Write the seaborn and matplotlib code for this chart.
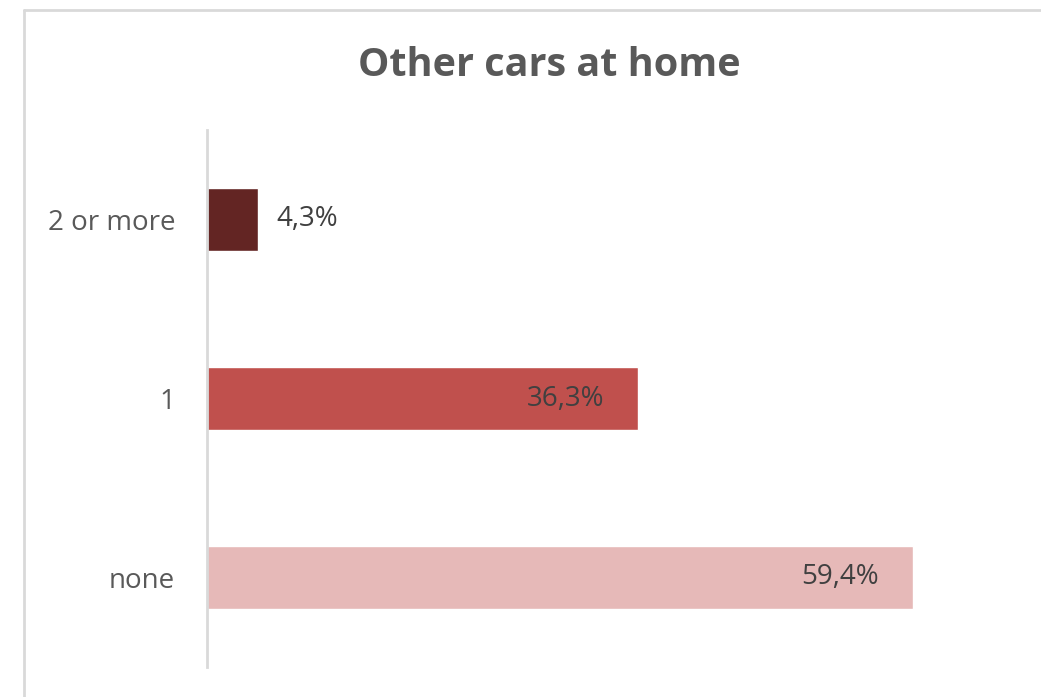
import matplotlib
matplotlib.use('Agg')
import matplotlib.pyplot as plt
import seaborn as sns
import pandas as pd
from matplotlib.lines import Line2D

categories = ['2 or more', '1', 'none']
shares = [4.3, 36.3, 59.4]
labels = ['4,3%', '36,3%', '59,4%']
colors = ['#632523', '#C0504D', '#E6B9B8']

sns.set_theme(style='white')
plt.rcParams['font.family'] = ['Open Sans', 'DejaVu Sans']

df = pd.DataFrame({'category': categories, 'share': shares})

fig = plt.figure(figsize=(10.41, 6.97), dpi=100)
ax = fig.add_axes([207 / 1041, 1 - 667 / 697, 832 / 1041, 537 / 697])
sns.barplot(data=df, y='category', x='share', hue='category', palette=colors,
            order=categories, width=0.35, legend=False, ax=ax, saturation=1)

ax.set_xlim(0, 70)
ax.set_ylim(2.5, -0.5)
ax.set_xlabel('')
ax.set_ylabel('')
ax.set_xticks([])
for s in ['top', 'right', 'bottom']:
    ax.spines[s].set_visible(False)
ax.spines['left'].set_color('#D9D9D9')
ax.spines['left'].set_linewidth(2)
ax.tick_params(axis='y', length=0, pad=23, labelsize=20, labelcolor='#595959')

for i, (v, lab) in enumerate(zip(shares, labels)):
    if v < 10:
        ax.text(v + 1.5, i, lab, va='center', ha='left', fontsize=20, color='#404040')
    else:
        ax.text(v - 2.9, i, lab, va='center', ha='right', fontsize=20, color='#404040')

fig.text(549 / 1041, 1 - 65 / 697, 'Other cars at home', ha='center', va='center',
         fontsize=28.5, fontweight='bold', color='#595959')

# chart frame
fig.add_artist(Line2D([24 / 1041, 24 / 1041], [0, 1 - 10 / 697], color='#D9D9D9', lw=2))
fig.add_artist(Line2D([24 / 1041, 1], [1 - 10 / 697, 1 - 10 / 697], color='#D9D9D9', lw=2))

fig.savefig('out.png', dpi=100)
